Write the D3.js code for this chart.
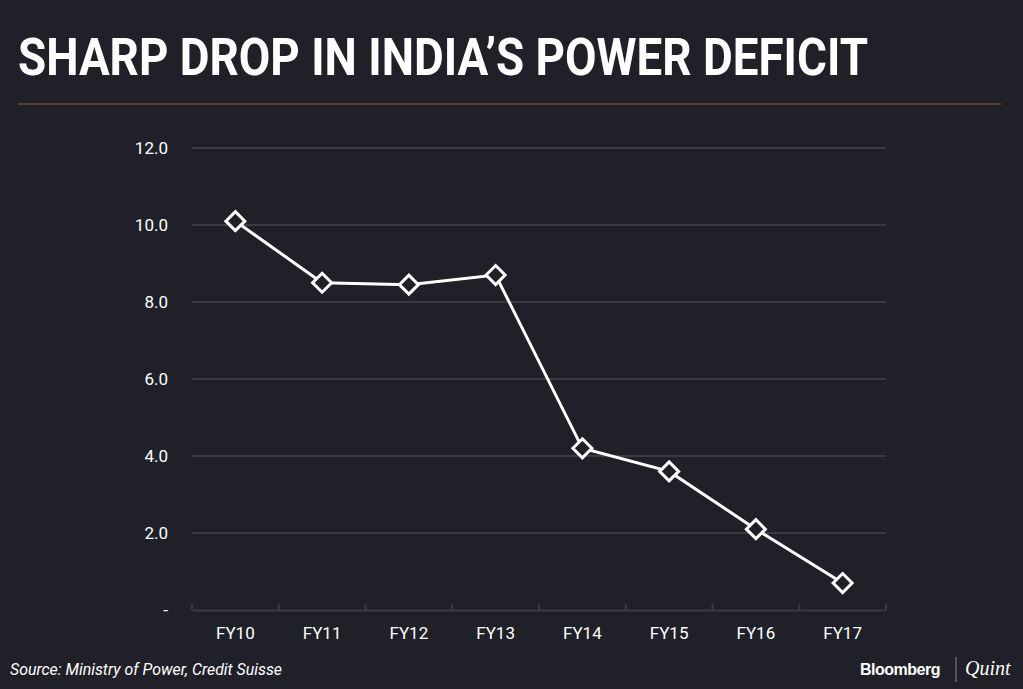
<!DOCTYPE html>
<html><head><meta charset="utf-8">
<script src="https://cdn.jsdelivr.net/npm/d3@7"></script>
<style>body{margin:0;background:#202128;}svg{display:block}</style>
</head><body><svg id="c" width="1023" height="689"></svg>
<script>
const categories=["FY10","FY11","FY12","FY13","FY14","FY15","FY16","FY17"];
const values=[10.1,8.5,8.45,8.7,4.2,3.6,2.1,0.7];
const yTicks=[0,2,4,6,8,10,12];
const title="SHARP DROP IN INDIA\u2019S POWER DEFICIT";
const source="Source: Ministry of Power, Credit Suisse";

const svg=d3.select("#c");
svg.append("rect").attr("width",1023).attr("height",689).attr("fill","#202128");
svg.append("text").attr("x",18).attr("y",75).attr("fill","#fff")
  .attr("font-family","'Liberation Sans Narrow','Roboto',sans-serif").attr("font-weight","bold")
  .attr("font-size",52).attr("textLength",850).attr("lengthAdjust","spacingAndGlyphs").text(title);
svg.append("line").attr("x1",18).attr("x2",1001).attr("y1",104).attr("y2",104).attr("stroke","#8a5a3a").attr("stroke-width",1);

const x=d3.scaleBand().domain(categories).range([192,886]);
const y=d3.scaleLinear().domain([0,12]).range([610,148]);

const g=svg.append("g");
g.selectAll(".grid").data(yTicks.filter(d=>d>0)).join("line")
  .attr("x1",192).attr("x2",886).attr("y1",d=>y(d)).attr("y2",d=>y(d))
  .attr("stroke","#3a3b43").attr("stroke-width",2);
g.selectAll(".yl").data(yTicks).join("text")
  .attr("x",168).attr("y",d=>y(d)+6).attr("text-anchor","end").attr("fill","#fff")
  .attr("font-family","Roboto,sans-serif").attr("font-size",17)
  .text(d=>d===0?"-":d.toFixed(1));

const xa=g.append("g").attr("transform","translate(0,610)")
  .call(d3.axisBottom(x).tickSize(0).tickPadding(17));
xa.select(".domain").attr("stroke","#3a3b43").attr("stroke-width",2);
xa.selectAll("text").attr("fill","#fff").attr("font-family","Roboto,sans-serif").attr("font-size",17);
const bounds=categories.map(c=>x(c)).concat([x.range()[1]]);
g.selectAll(".bt").data(bounds).join("line").attr("x1",d=>d).attr("x2",d=>d)
  .attr("y1",604).attr("y2",610).attr("stroke","#3a3b43").attr("stroke-width",2);

const cx=c=>x(c)+x.bandwidth()/2;
const data=categories.map((c,i)=>({c,v:values[i]}));
g.append("path").datum(data).attr("fill","none").attr("stroke","#fff").attr("stroke-width",3)
  .attr("d",d3.line().x(d=>cx(d.c)).y(d=>y(d.v)));
g.selectAll(".pt").data(data).join("path")
  .attr("d",d3.symbol(d3.symbolDiamond2,230)).attr("transform",d=>`translate(${cx(d.c)},${y(d.v)})`)
  .attr("fill","#202128").attr("stroke","#fff").attr("stroke-width",3);

svg.append("text").attr("x",10).attr("y",675).attr("fill","#fff").attr("font-style","italic")
  .attr("font-family","Roboto,sans-serif").attr("font-size",17).attr("textLength",272).attr("lengthAdjust","spacingAndGlyphs").text(source);
svg.append("text").attr("x",860).attr("y",675).attr("fill","#fff").attr("font-weight","bold")
  .attr("font-family","'Liberation Sans',Arial,sans-serif").attr("font-size",16).attr("letter-spacing",-0.5).text("Bloomberg");
svg.append("line").attr("x1",956).attr("x2",956).attr("y1",657).attr("y2",682).attr("stroke","#888");
svg.append("text").attr("x",965).attr("y",675).attr("fill","#fff").attr("font-style","italic")
  .attr("font-family","'Liberation Serif',serif").attr("font-size",20).text("Quint");
</script></body></html>
